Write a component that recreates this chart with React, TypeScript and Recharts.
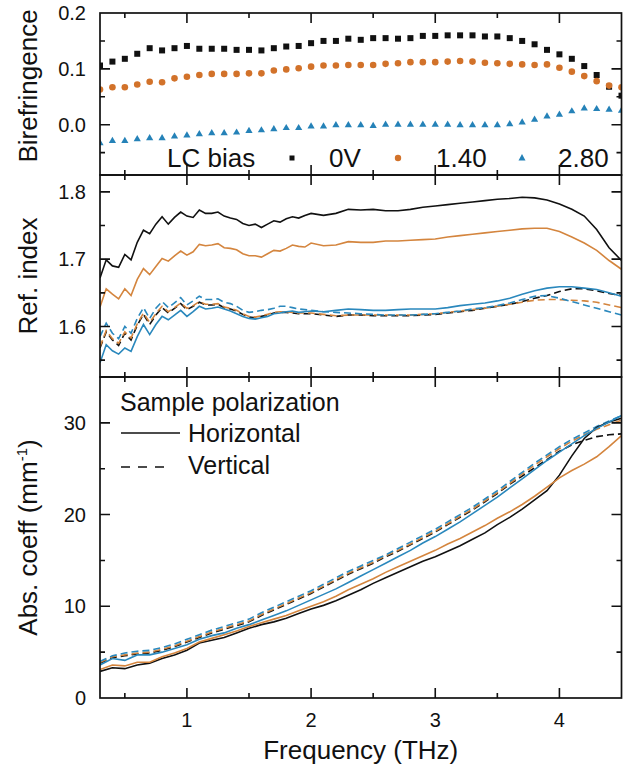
import React from 'react';
import { ComposedChart, Line, XAxis, YAxis } from 'recharts';

const FONT = '"Liberation Sans", Arial, Helvetica, sans-serif';
const BLACK = '#111111';
const ORANGE = '#d2722a';
const BLUE = '#2582b8';
const ORANGE_L = '#d4853e';
const BLUE_L = '#2a88bd';
const FRAME = '#111111';

const freqTicks = [0.5, 1, 1.5, 2, 2.5, 3, 3.5, 4];
const freqMajor = [1, 2, 3, 4];
const freqLabels = ['1', '2', '3', '4'];

const birFreq = [0.3, 0.4, 0.5, 0.6, 0.7, 0.8, 0.9, 1.0, 1.1, 1.2, 1.3, 1.4, 1.5, 1.6, 1.7, 1.8, 1.9, 2.0, 2.1, 2.2, 2.3, 2.4, 2.5, 2.6, 2.7, 2.8, 2.9, 3.0, 3.1, 3.2, 3.3, 3.4, 3.5, 3.6, 3.7, 3.8, 3.9, 4.0, 4.1, 4.2, 4.3, 4.4, 4.5];
const bir0V = [0.106, 0.113, 0.118, 0.127, 0.137, 0.133, 0.137, 0.141, 0.136, 0.136, 0.136, 0.134, 0.134, 0.133, 0.137, 0.140, 0.141, 0.146, 0.150, 0.150, 0.154, 0.152, 0.155, 0.155, 0.154, 0.155, 0.159, 0.159, 0.160, 0.160, 0.160, 0.158, 0.158, 0.155, 0.150, 0.144, 0.134, 0.126, 0.118, 0.105, 0.089, 0.068, 0.052];
const bir140 = [0.063, 0.067, 0.067, 0.072, 0.077, 0.076, 0.083, 0.086, 0.089, 0.091, 0.091, 0.091, 0.092, 0.092, 0.097, 0.099, 0.101, 0.104, 0.106, 0.106, 0.107, 0.107, 0.107, 0.109, 0.110, 0.112, 0.112, 0.112, 0.113, 0.114, 0.113, 0.111, 0.110, 0.109, 0.108, 0.107, 0.108, 0.102, 0.095, 0.087, 0.078, 0.070, 0.067];
const bir280 = [-0.032, -0.028, -0.028, -0.025, -0.023, -0.023, -0.020, -0.018, -0.016, -0.014, -0.014, -0.013, -0.010, -0.009, -0.007, -0.005, -0.005, -0.002, -0.002, 0.000, 0.000, 0.000, -0.001, 0.001, 0.001, 0.001, 0.001, 0.001, 0.001, 0.000, 0.000, 0.000, 0.000, 0.002, 0.005, 0.010, 0.016, 0.019, 0.025, 0.030, 0.029, 0.028, 0.026];
const birTicks = [-0.05, 0, 0.05, 0.1, 0.15];
const birMajor = [0, 0.1];
const birLabelTicks = [0, 0.1, 0.2];
const birLabels = ['0.0', '0.1', '0.2'];

const refFreq = [0.3, 0.35, 0.4, 0.45, 0.5, 0.55, 0.6, 0.65, 0.7, 0.75, 0.8, 0.85, 0.9, 0.95, 1.0, 1.05, 1.1, 1.15, 1.2, 1.25, 1.3, 1.35, 1.4, 1.45, 1.5, 1.55, 1.6, 1.65, 1.7, 1.75, 1.8, 1.85, 1.9, 1.95, 2.0, 2.1, 2.2, 2.3, 2.4, 2.5, 2.6, 2.7, 2.8, 2.9, 3.0, 3.1, 3.2, 3.3, 3.4, 3.5, 3.6, 3.7, 3.8, 3.9, 4.0, 4.1, 4.2, 4.3, 4.4, 4.5];
const refH0 = [1.672, 1.699, 1.690, 1.688, 1.707, 1.699, 1.725, 1.743, 1.738, 1.752, 1.763, 1.752, 1.762, 1.770, 1.764, 1.762, 1.773, 1.768, 1.768, 1.770, 1.764, 1.761, 1.759, 1.753, 1.750, 1.752, 1.747, 1.752, 1.757, 1.755, 1.760, 1.763, 1.761, 1.765, 1.768, 1.765, 1.768, 1.774, 1.773, 1.774, 1.772, 1.772, 1.774, 1.777, 1.779, 1.781, 1.783, 1.785, 1.787, 1.789, 1.790, 1.792, 1.791, 1.788, 1.782, 1.774, 1.764, 1.744, 1.717, 1.698];
const refH14 = [1.629, 1.656, 1.648, 1.641, 1.656, 1.646, 1.670, 1.686, 1.677, 1.689, 1.701, 1.697, 1.705, 1.712, 1.706, 1.711, 1.722, 1.720, 1.721, 1.723, 1.717, 1.716, 1.714, 1.708, 1.705, 1.705, 1.703, 1.708, 1.713, 1.712, 1.716, 1.721, 1.719, 1.718, 1.724, 1.720, 1.721, 1.726, 1.725, 1.725, 1.727, 1.727, 1.728, 1.729, 1.730, 1.733, 1.735, 1.737, 1.739, 1.741, 1.743, 1.745, 1.746, 1.746, 1.741, 1.733, 1.724, 1.713, 1.698, 1.685];
const refH28 = [1.546, 1.573, 1.564, 1.559, 1.568, 1.563, 1.585, 1.603, 1.588, 1.603, 1.615, 1.610, 1.617, 1.624, 1.615, 1.622, 1.630, 1.626, 1.627, 1.629, 1.626, 1.623, 1.619, 1.615, 1.612, 1.611, 1.613, 1.615, 1.619, 1.620, 1.622, 1.623, 1.621, 1.622, 1.623, 1.622, 1.624, 1.626, 1.625, 1.624, 1.624, 1.625, 1.626, 1.626, 1.626, 1.628, 1.631, 1.633, 1.635, 1.638, 1.642, 1.648, 1.653, 1.657, 1.659, 1.659, 1.657, 1.655, 1.650, 1.645];
const refV0 = [1.568, 1.592, 1.580, 1.572, 1.590, 1.580, 1.602, 1.618, 1.603, 1.617, 1.628, 1.620, 1.627, 1.634, 1.625, 1.630, 1.636, 1.632, 1.632, 1.633, 1.628, 1.626, 1.623, 1.618, 1.614, 1.613, 1.615, 1.617, 1.620, 1.621, 1.621, 1.620, 1.619, 1.619, 1.619, 1.617, 1.615, 1.617, 1.617, 1.616, 1.616, 1.616, 1.616, 1.617, 1.618, 1.620, 1.622, 1.624, 1.627, 1.630, 1.633, 1.637, 1.642, 1.646, 1.652, 1.656, 1.656, 1.653, 1.649, 1.646];
const refV14 = [1.570, 1.594, 1.582, 1.575, 1.592, 1.583, 1.604, 1.620, 1.606, 1.619, 1.630, 1.622, 1.628, 1.635, 1.627, 1.631, 1.637, 1.633, 1.633, 1.634, 1.629, 1.627, 1.624, 1.619, 1.615, 1.614, 1.616, 1.618, 1.621, 1.622, 1.622, 1.621, 1.620, 1.620, 1.620, 1.618, 1.616, 1.617, 1.617, 1.617, 1.617, 1.617, 1.617, 1.618, 1.619, 1.621, 1.623, 1.625, 1.627, 1.630, 1.633, 1.636, 1.639, 1.640, 1.640, 1.639, 1.638, 1.636, 1.632, 1.628];
const refV28 = [1.585, 1.605, 1.590, 1.582, 1.600, 1.590, 1.612, 1.628, 1.612, 1.627, 1.637, 1.628, 1.635, 1.643, 1.632, 1.638, 1.645, 1.640, 1.640, 1.641, 1.636, 1.634, 1.630, 1.624, 1.621, 1.622, 1.624, 1.625, 1.627, 1.630, 1.630, 1.628, 1.626, 1.625, 1.624, 1.622, 1.621, 1.620, 1.619, 1.618, 1.617, 1.617, 1.617, 1.618, 1.619, 1.621, 1.623, 1.626, 1.628, 1.631, 1.635, 1.640, 1.645, 1.646, 1.642, 1.637, 1.632, 1.627, 1.622, 1.617];
const refTicks = [1.55, 1.6, 1.65, 1.7, 1.75, 1.8];
const refMajor = [1.6, 1.7, 1.8];
const refLabelTicks = [1.6, 1.7, 1.8];
const refLabels = ['1.6', '1.7', '1.8'];

const absFreq = [0.3, 0.4, 0.5, 0.6, 0.7, 0.8, 0.9, 1.0, 1.1, 1.2, 1.3, 1.4, 1.5, 1.6, 1.7, 1.8, 1.9, 2.0, 2.1, 2.2, 2.3, 2.4, 2.5, 2.6, 2.7, 2.8, 2.9, 3.0, 3.1, 3.2, 3.3, 3.4, 3.5, 3.6, 3.7, 3.8, 3.9, 4.0, 4.1, 4.2, 4.3, 4.4, 4.5];
const absH0 = [2.9, 3.3, 3.2, 3.6, 3.8, 4.3, 4.7, 5.2, 6.0, 6.3, 6.6, 7.1, 7.6, 8.0, 8.3, 8.7, 9.2, 9.7, 10.1, 10.6, 11.2, 11.8, 12.5, 13.1, 13.7, 14.3, 14.9, 15.4, 16.0, 16.6, 17.3, 18.0, 18.9, 19.7, 20.6, 21.6, 22.6, 24.3, 26.4, 28.3, 29.5, 30.1, 30.5];
const absH14 = [3.1, 3.6, 3.5, 3.9, 3.9, 4.5, 4.9, 5.4, 6.1, 6.5, 6.9, 7.3, 7.8, 8.2, 8.6, 9.0, 9.5, 10.0, 10.5, 11.1, 11.8, 12.4, 13.0, 13.7, 14.3, 14.9, 15.5, 16.1, 16.8, 17.4, 18.1, 18.8, 19.6, 20.3, 21.1, 22.0, 23.0, 24.0, 24.8, 25.5, 26.3, 27.4, 28.6];
const absH28 = [3.6, 4.3, 4.1, 4.7, 4.7, 5.0, 5.4, 5.8, 6.4, 6.8, 7.1, 7.6, 8.0, 8.5, 9.0, 9.5, 10.1, 10.7, 11.3, 11.9, 12.6, 13.3, 14.0, 14.7, 15.4, 16.1, 16.9, 17.6, 18.4, 19.2, 20.1, 21.0, 21.9, 22.9, 23.9, 24.9, 25.9, 26.8, 27.7, 28.6, 29.4, 30.1, 30.8];
const absV0 = [3.8, 4.4, 4.6, 4.8, 4.9, 5.2, 5.6, 6.1, 6.6, 7.1, 7.5, 7.9, 8.3, 9.0, 9.6, 10.2, 10.8, 11.4, 12.1, 12.8, 13.5, 14.1, 14.7, 15.4, 16.0, 16.7, 17.4, 18.1, 18.9, 19.7, 20.5, 21.4, 22.3, 23.3, 24.2, 25.1, 26.0, 26.9, 27.6, 28.1, 28.5, 28.7, 28.8];
const absV14 = [3.9, 4.5, 4.7, 4.9, 5.0, 5.3, 5.7, 6.2, 6.7, 7.2, 7.6, 8.0, 8.4, 9.1, 9.7, 10.3, 10.9, 11.5, 12.2, 12.9, 13.6, 14.2, 14.8, 15.5, 16.1, 16.8, 17.5, 18.2, 19.0, 19.8, 20.6, 21.5, 22.4, 23.4, 24.4, 25.4, 26.3, 27.2, 28.0, 28.7, 29.3, 29.8, 30.3];
const absV28 = [4.0, 4.6, 4.9, 5.1, 5.2, 5.5, 5.9, 6.4, 6.9, 7.4, 7.8, 8.2, 8.6, 9.3, 9.9, 10.5, 11.1, 11.7, 12.4, 13.1, 13.8, 14.4, 15.0, 15.6, 16.3, 17.0, 17.7, 18.4, 19.2, 20.0, 20.8, 21.7, 22.6, 23.6, 24.6, 25.6, 26.5, 27.4, 28.2, 28.9, 29.6, 30.2, 30.8];
const absTicks = [5, 10, 15, 20, 25, 30];
const absMajor = [10, 20, 30];
const absLabelTicks = [0, 10, 20, 30];
const absLabels = ['0', '10', '20', '30'];

const birRows = birFreq.map((f, i) => ({ f, a: bir0V[i], b: bir140[i], c: bir280[i] }));
const refRows = refFreq.map((f, i) => ({ f, h0: refH0[i], h14: refH14[i], h28: refH28[i], v0: refV0[i], v14: refV14[i], v28: refV28[i] }));
const absRows = absFreq.map((f, i) => ({ f, h0: absH0[i], h14: absH14[i], h28: absH28[i], v0: absV0[i], v14: absV14[i], v28: absV28[i] }));

const W = 631;
const PLOT_L = 100;
const PLOT_R = 621.5;
const XDOM: [number, number] = [0.3, 4.5];
type Panel = { divTop: number; divH: number; top: number; bottom: number; dom: [number, number]; ticks: number[]; majors: number[]; xAxisH: number };
const P1: Panel = { divTop: 0, divH: 180, top: 13, bottom: 175, dom: [-0.09, 0.2], ticks: birTicks, majors: birMajor, xAxisH: 0 };
const P2: Panel = { divTop: 170, divH: 212, top: 175, bottom: 377, dom: [1.525, 1.825], ticks: refTicks, majors: refMajor, xAxisH: 0 };
const P3: Panel = { divTop: 370, divH: 399, top: 377, bottom: 698, dom: [0, 35], ticks: absTicks, majors: absMajor, xAxisH: 60 };
const marginOf = (p: Panel) => ({ top: p.top - p.divTop, bottom: p.divTop + p.divH - p.bottom - p.xAxisH, left: 0, right: W - PLOT_R });

const isIn = (list: number[], v: number) => list.findIndex((m) => Math.abs(m - v) < 1e-9);
const xPx = (v: number) => PLOT_L + ((v - XDOM[0]) / (XDOM[1] - XDOM[0])) * (PLOT_R - PLOT_L);
const yPx = (p: Panel, v: number) => p.top + ((p.dom[1] - v) / (p.dom[1] - p.dom[0])) * (p.bottom - p.top);

function labelTick(side: 'left' | 'bottom', values: number[], labels: string[] | null) {
  return (props: any) => {
    const x = Number(props.x);
    const y = Number(props.y);
    const i = isIn(values, Number(props.payload.value));
    if (!labels || i < 0) return <g />;
    if (side === 'left') {
      return (
        <text x={x - 14} y={y + 7} textAnchor="end" fontSize={20} fontFamily={FONT} fill={BLACK}>
          {labels[i]}
        </text>
      );
    }
    return (
      <text x={x} y={y + 29} textAnchor="middle" fontSize={20} fontFamily={FONT} fill={BLACK}>
        {labels[i]}
      </text>
    );
  };
}

const yTitle = (content: React.ReactNode, shift: number) => (props: any) => {
  const vb = props.viewBox || { x: 0, y: 0, width: 100, height: 100 };
  const cx = 37;
  const cy = vb.y + vb.height / 2 + shift;
  return (
    <text x={cx} y={cy} transform={`rotate(-90 ${cx} ${cy})`} textAnchor="middle" fontSize={26} fontFamily={FONT} fill={BLACK}>
      {content}
    </text>
  );
};

const xTitle = (props: any) => {
  const vb = props.viewBox || { x: 100, y: 0, width: 520, height: 60 };
  return (
    <text x={vb.x + vb.width / 2} y={vb.y + 61} textAnchor="middle" fontSize={26} fontFamily={FONT} fill={BLACK}>
      Frequency (THz)
    </text>
  );
};

function axes(p: Panel, labelTicks: number[], labels: string[], showX: boolean, yLabel: any, xLabel: any) {
  return [
    <XAxis key="xb" dataKey="f" type="number" domain={XDOM} allowDataOverflow ticks={freqTicks} interval={0} height={p.xAxisH}
      tickSize={0} tickMargin={0} tickLine={false} axisLine={false}
      tick={labelTick('bottom', freqMajor, showX ? freqLabels : null)} label={xLabel} />,
    <YAxis key="yl" type="number" domain={p.dom} allowDataOverflow ticks={labelTicks} interval={0} width={PLOT_L}
      tickSize={0} tickMargin={0} tickLine={false} axisLine={false} tick={labelTick('left', labelTicks, labels)} label={yLabel} />,
  ];
}

function panelFrame(p: Panel, key: string) {
  let d = '';
  freqTicks.forEach((v) => {
    const len = isIn(freqMajor, v) >= 0 ? 10 : 5;
    const x = xPx(v);
    d += `M${x},${p.top}v${len}M${x},${p.bottom}v${-len}`;
  });
  p.ticks.forEach((v) => {
    const len = isIn(p.majors, v) >= 0 ? 10 : 5;
    const y = yPx(p, v);
    d += `M${PLOT_L},${y}h${len}M${PLOT_R},${y}h${-len}`;
  });
  return (
    <g key={key}>
      <rect x={PLOT_L} y={p.top} width={PLOT_R - PLOT_L} height={p.bottom - p.top} fill="none" stroke={FRAME} strokeWidth={1.7} />
      <path d={d} stroke={FRAME} strokeWidth={1.6} fill="none" />
    </g>
  );
}

const squareDot = (p: any) => <rect key={p.key} x={p.cx - 3} y={p.cy - 3} width={6} height={6} fill={BLACK} />;
const circleDot = (p: any) => <circle key={p.key} cx={p.cx} cy={p.cy} r={3.3} fill={ORANGE} />;
const triDot = (p: any) => (
  <polygon key={p.key} points={`${p.cx},${p.cy - 3.6} ${p.cx + 3.6},${p.cy + 2.6} ${p.cx - 3.6},${p.cy + 2.6}`} fill={BLUE} />
);

const DASH = '7 4';

function seriesLines() {
  return [
    <Line key="v0" dataKey="v0" stroke={BLACK} strokeWidth={1.6} strokeDasharray={DASH} dot={false} activeDot={false} isAnimationActive={false} />,
    <Line key="v14" dataKey="v14" stroke={ORANGE_L} strokeWidth={1.6} strokeDasharray={DASH} dot={false} activeDot={false} isAnimationActive={false} />,
    <Line key="v28" dataKey="v28" stroke={BLUE_L} strokeWidth={1.6} strokeDasharray={DASH} dot={false} activeDot={false} isAnimationActive={false} />,
    <Line key="h0" dataKey="h0" stroke={BLACK} strokeWidth={1.6} dot={false} activeDot={false} isAnimationActive={false} />,
    <Line key="h14" dataKey="h14" stroke={ORANGE_L} strokeWidth={1.6} dot={false} activeDot={false} isAnimationActive={false} />,
    <Line key="h28" dataKey="h28" stroke={BLUE_L} strokeWidth={1.6} dot={false} activeDot={false} isAnimationActive={false} />,
  ];
}

export default function App() {
  return (
    <div style={{ position: 'absolute', left: 0, top: 0, width: W, height: 769, background: '#fff', fontFamily: FONT }}>
      <div style={{ position: 'absolute', left: 0, top: P1.divTop }}>
        <ComposedChart width={W} height={P1.divH} data={birRows} margin={marginOf(P1)}>
          {axes(P1, birLabelTicks, birLabels, false, yTitle('Birefringence', -8), undefined)}
          <Line dataKey="a" stroke="none" dot={squareDot} activeDot={false} isAnimationActive={false} />
          <Line dataKey="b" stroke="none" dot={circleDot} activeDot={false} isAnimationActive={false} />
          <Line dataKey="c" stroke="none" dot={triDot} activeDot={false} isAnimationActive={false} />
        </ComposedChart>
      </div>
      <div style={{ position: 'absolute', left: 0, top: P2.divTop }}>
        <ComposedChart width={W} height={P2.divH} data={refRows} margin={marginOf(P2)}>
          {axes(P2, refLabelTicks, refLabels, false, yTitle('Ref. index', 0), undefined)}
          {seriesLines()}
        </ComposedChart>
      </div>
      <div style={{ position: 'absolute', left: 0, top: P3.divTop }}>
        <ComposedChart width={W} height={P3.divH} data={absRows} margin={marginOf(P3)}>
          {axes(P3, absLabelTicks, absLabels, true,
            yTitle(<>Abs. coeff (mm<tspan dy={-10} fontSize={15}>-1</tspan><tspan dy={10}>)</tspan></>, 0), xTitle)}
          {seriesLines()}
        </ComposedChart>
      </div>
      <svg width={W} height={769} style={{ position: 'absolute', left: 0, top: 0, pointerEvents: 'none' }}>
        {panelFrame(P1, 'f1')}
        {panelFrame(P2, 'f2')}
        {panelFrame(P3, 'f3')}
        <g fontFamily={FONT} fill={BLACK}>
          <text x={167} y={167} fontSize={26}>LC bias</text>
          <rect x={289.5} y={155.5} width={5} height={5} fill={BLACK} />
          <text x={329} y={167} fontSize={26}>0V</text>
          <circle cx={398} cy={158} r={3.2} fill={ORANGE} />
          <text x={436} y={167} fontSize={26}>1.40</text>
          <polygon points="522,154 525.5,160.5 518.5,160.5" fill={BLUE} />
          <text x={558} y={167} fontSize={26}>2.80</text>
          <text x={120} y={411} fontSize={25}>Sample polarization</text>
          <line x1={121} x2={180} y1={433} y2={433} stroke={BLACK} strokeWidth={1.6} />
          <text x={188} y={442} fontSize={25}>Horizontal</text>
          <line x1={121} x2={172} y1={467} y2={467} stroke={BLACK} strokeWidth={1.6} strokeDasharray="9 8" />
          <text x={188} y={474} fontSize={25}>Vertical</text>
        </g>
      </svg>
    </div>
  );
}
